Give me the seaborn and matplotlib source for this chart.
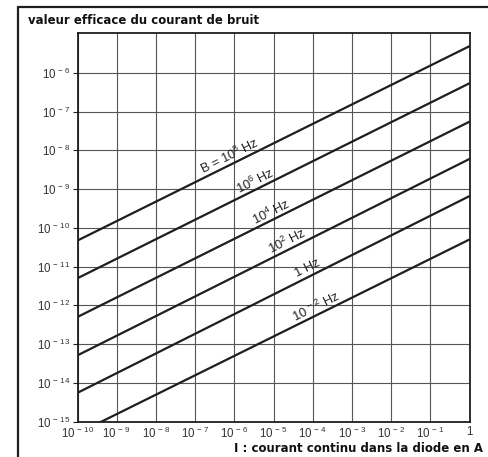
import numpy as np
import pandas as pd
import matplotlib
matplotlib.use("Agg")
import matplotlib.pyplot as plt
import seaborn as sns
from matplotlib.lines import Line2D
from matplotlib.ticker import FixedLocator, FixedFormatter, NullLocator

# Shot-noise current versus diode DC current, one line per bandwidth B
bands = ["1e8", "1e6", "1e4", "1e2", "1", "1e-2"]
band_labels = [r"B = $10^{8}$ Hz", r"$10^{6}$ Hz", r"$10^{4}$ Hz",
               r"$10^{2}$ Hz", "1 Hz", r"$10^{\,-\,2}$ Hz"]
current_ends = [1e-10, 1.0]
noise_low = [4.7e-11, 5.0e-12, 5.0e-13, 5.1e-14, 5.5e-15, 4.9e-16]
noise_high = [4.9e-6, 5.4e-7, 5.5e-8, 6.0e-9, 6.6e-10, 5.0e-11]

x_ticks = [1e-10, 1e-9, 1e-8, 1e-7, 1e-6, 1e-5, 1e-4, 1e-3, 1e-2, 1e-1, 1.0]
x_tick_labels = [r"$10^{\,-\,10}$", r"$10^{\,-\,9}$", r"$10^{\,-\,8}$",
                 r"$10^{\,-\,7}$", r"$10^{\,-\,6}$", r"$10^{\,-\,5}$",
                 r"$10^{\,-\,4}$", r"$10^{\,-\,3}$", r"$10^{\,-\,2}$",
                 r"$10^{\,-\,1}$", "1"]
y_ticks = [1e-15, 1e-14, 1e-13, 1e-12, 1e-11, 1e-10, 1e-9, 1e-8, 1e-7, 1e-6]
y_tick_labels = [r"$10^{\,-\,15}$", r"$10^{\,-\,14}$", r"$10^{\,-\,13}$",
                 r"$10^{\,-\,12}$", r"$10^{\,-\,11}$", r"$10^{\,-\,10}$",
                 r"$10^{\,-\,9}$", r"$10^{\,-\,8}$", r"$10^{\,-\,7}$",
                 r"$10^{\,-\,6}$"]

# where each bandwidth label sits along its line (current, A)
label_current = [10**-6.13, 10**-5.47, 10**-5.06, 10**-4.65, 10**-4.12, 10**-3.91]

rows = []
for band, lo, hi in zip(bands, noise_low, noise_high):
    rows.append({"current": current_ends[0], "noise": lo, "band": band})
    rows.append({"current": current_ends[1], "noise": hi, "band": band})
df = pd.DataFrame(rows)

sns.set_theme(style="white")
plt.rcParams["font.family"] = ["Liberation Sans", "DejaVu Sans"]
plt.rcParams["mathtext.fontset"] = "custom"
plt.rcParams["mathtext.rm"] = "Liberation Sans"
plt.rcParams["mathtext.it"] = "Liberation Sans:italic"
plt.rcParams["mathtext.default"] = "regular"

W, H = 488, 457
fig = plt.figure(figsize=(W / 100, H / 100), dpi=100)
fig.patch.set_facecolor("white")
ax = fig.add_axes([77.5 / W, 1 - 421.5 / H, (469.5 - 77.5) / W, (421.5 - 33) / H])

ink = "#1e1e1e"
sns.lineplot(data=df, x="current", y="noise", hue="band", hue_order=bands,
             palette=[ink] * len(bands), linewidth=1.6, legend=False, ax=ax,
             estimator=None, sort=False)

ax.set_xscale("log")
ax.set_yscale("log")
ax.set_xlim(1e-10, 1.0)
ax.set_ylim(1e-15, 10**-4.97)

ax.xaxis.set_major_locator(FixedLocator(x_ticks))
ax.xaxis.set_major_formatter(FixedFormatter(x_tick_labels))
ax.yaxis.set_major_locator(FixedLocator(y_ticks))
ax.yaxis.set_major_formatter(FixedFormatter(y_tick_labels))
ax.xaxis.set_minor_locator(NullLocator())
ax.yaxis.set_minor_locator(NullLocator())

ax.grid(True, which="major", color="#555555", linewidth=0.8)
ax.tick_params(axis="both", which="major", length=3.5, width=0.8, color=ink,
               labelsize=8.3, labelcolor="#333333", pad=1.5)
ax.tick_params(axis="x", direction="inout", length=5, pad=0.5)
ax.tick_params(axis="y", direction="out", left=True)
for s in ax.spines.values():
    s.set_color(ink)
    s.set_linewidth(1.3)
ax.set_xlabel("")
ax.set_ylabel("")

# bandwidth labels laid along each line, just above it
for lab, lo, hi, xc in zip(band_labels, noise_low, noise_high, label_current):
    lx = np.log10(xc)
    ly = np.interp(lx, np.log10(current_ends), np.log10([lo, hi]))
    p0 = ax.transData.transform((current_ends[0], lo))
    p1 = ax.transData.transform((current_ends[1], hi))
    ang = np.degrees(np.arctan2(p1[1] - p0[1], p1[0] - p0[0]))
    ax.annotate(lab, xy=(10**lx, 10**ly), xytext=(0, 6.4),
                textcoords="offset points", ha="center", va="center",
                rotation=ang, rotation_mode="anchor", fontsize=9.3,
                color="#222222")

# page frame
fig.add_artist(Line2D([17.5 / W, 17.5 / W], [0, 1 - 6.5 / H],
                      transform=fig.transFigure, color=ink, linewidth=1.6))
fig.add_artist(Line2D([17.5 / W, 1.0], [1 - 6.5 / H, 1 - 6.5 / H],
                      transform=fig.transFigure, color=ink, linewidth=1.6))

fig.text(28 / W, 1 - 21 / H, "valeur efficace du courant de bruit",
         ha="left", va="center", fontsize=8.5, fontweight="bold",
         family=["DejaVu Sans"], color="#111111")
fig.text(483 / W, 1 - 448 / H, "I : courant continu dans la diode en A",
         ha="right", va="center", fontsize=8.5, fontweight="bold",
         family=["DejaVu Sans"], color="#111111")

fig.savefig("out.png", dpi=100, facecolor="white")
